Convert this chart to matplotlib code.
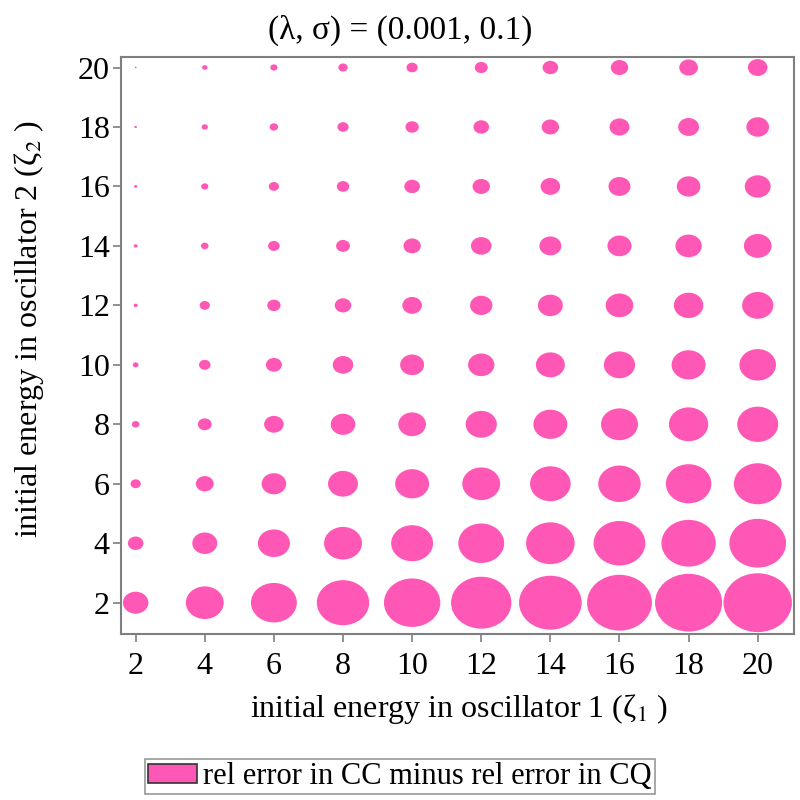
import numpy as np
import matplotlib.pyplot as plt
from matplotlib.patches import Circle, Patch

plt.rcParams['font.family'] = ['Liberation Serif', 'DejaVu Serif']
plt.rcParams['mathtext.fontset'] = 'stix'

# grid of initial energies
zeta1 = [2, 4, 6, 8, 10, 12, 14, 16, 18, 20]
zeta2 = [2, 4, 6, 8, 10, 12, 14, 16, 18, 20]

# rel error in CC minus rel error in CQ (relative units), one row per zeta2
diff_z2_2 = [0.139, 0.307, 0.450, 0.586, 0.678, 0.778, 0.838, 0.898, 0.962, 1.000]
diff_z2_4 = [0.052, 0.133, 0.220, 0.307, 0.375, 0.450, 0.504, 0.572, 0.631, 0.686]
diff_z2_6 = [0.0225, 0.068, 0.129, 0.191, 0.246, 0.307, 0.352, 0.384, 0.442, 0.486]
diff_z2_8 = [0.0123, 0.041, 0.082, 0.129, 0.163, 0.208, 0.246, 0.292, 0.330, 0.359]
diff_z2_10 = [0.0071, 0.0286, 0.055, 0.090, 0.123, 0.148, 0.179, 0.208, 0.246, 0.286]
diff_z2_12 = [0.0034, 0.0225, 0.038, 0.058, 0.082, 0.107, 0.133, 0.163, 0.185, 0.208]
diff_z2_14 = [0.0031, 0.0123, 0.0286, 0.041, 0.064, 0.090, 0.103, 0.124, 0.148, 0.164]
diff_z2_16 = [0.0022, 0.011, 0.0225, 0.033, 0.052, 0.065, 0.082, 0.103, 0.119, 0.144]
diff_z2_18 = [0.0014, 0.0084, 0.0154, 0.0267, 0.038, 0.052, 0.065, 0.085, 0.093, 0.110]
diff_z2_20 = [0.0007, 0.0062, 0.011, 0.0188, 0.0267, 0.036, 0.052, 0.065, 0.075, 0.082]

rows = [diff_z2_2, diff_z2_4, diff_z2_6, diff_z2_8, diff_z2_10,
        diff_z2_12, diff_z2_14, diff_z2_16, diff_z2_18, diff_z2_20]
vals = np.array(rows)

pink = '#ff57b6'
grey = '#7f7f7f'

fig = plt.figure(figsize=(8, 8), dpi=100)
ax = fig.add_axes([0.151, 0.2075, 0.8415, 0.7215])

# bubble area proportional to value, largest bubble fills the grid step
rmax = 0.99
for j, y in enumerate(zeta2):
    for i, x in enumerate(zeta1):
        r = rmax * np.sqrt(vals[j, i] / vals.max())
        ax.add_patch(Circle((x, y), r, facecolor=pink, edgecolor='none'))

ax.set_xlim(1.57, 21.05)
ax.set_ylim(0.947, 20.36)
ax.set_xticks(zeta1)
ax.set_yticks(zeta2)

for s in ax.spines.values():
    s.set_color(grey)
    s.set_linewidth(1.5)
ax.tick_params(direction='out', length=6, width=1.2, color=grey, labelsize=23)
ax.tick_params(axis='x', pad=7)
ax.tick_params(axis='y', pad=2)

fig.text(0.5, 0.962, '(λ, σ) = (0.001, 0.1)', ha='center', va='center', fontsize=24)
fig.text(0.574, 0.104, r'initial energy in oscillator 1 (ζ$_{1}$ )',
         ha='center', va='baseline', fontsize=23)
fig.text(0.036, 0.589, r'initial energy in oscillator 2 (ζ$_{2}$ )',
         ha='center', va='center', rotation=90, fontsize=23)

h = Patch(facecolor=pink, edgecolor='#333333', linewidth=1.2)
leg = fig.legend([h], ['rel error in CC minus rel error in CQ'], loc='center',
                 bbox_to_anchor=(0.5, 0.029), fontsize=22, frameon=True,
                 fancybox=False, edgecolor=grey, borderpad=0.1,
                 handlelength=1.6, handleheight=0.6, handletextpad=0.2,
                 borderaxespad=0)
leg.get_frame().set_linewidth(1.2)

fig.savefig('out.png', dpi=100)
